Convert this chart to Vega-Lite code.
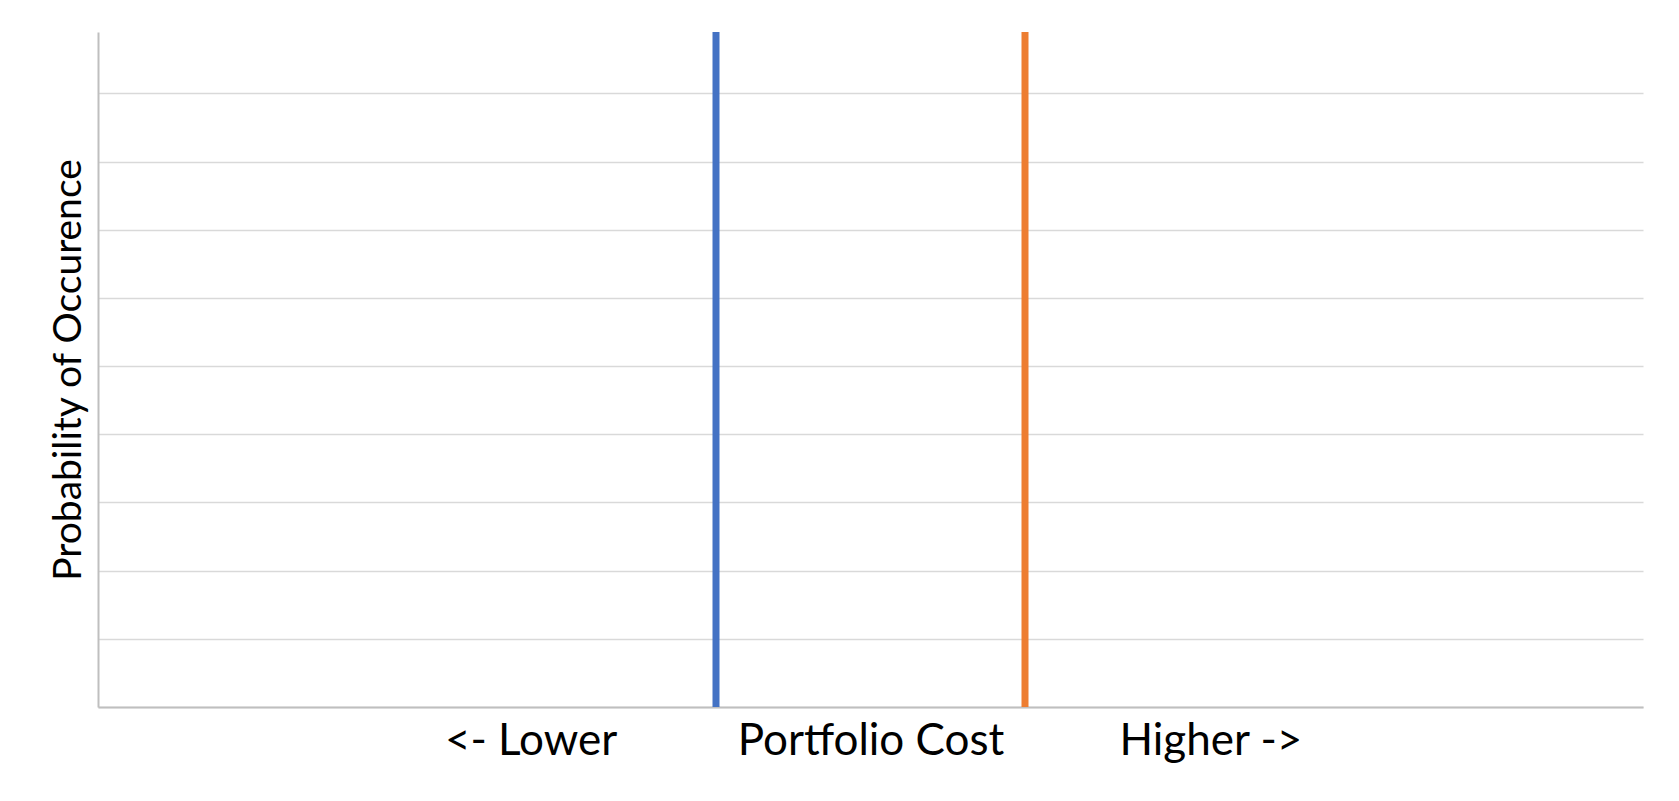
{
  "$schema": "https://vega.github.io/schema/vega-lite/v6.json",
  "autosize": {"type": "none"},
  "width": 1545,
  "height": 675,
  "padding": {"left": 98, "top": 32, "right": 36, "bottom": 94},
  "background": "white",
  "config": {
    "view": {"stroke": null},
    "font": "Lato"
  },
  "data": {
    "values": [
      {"scenario": "Current", "cost": 4},
      {"scenario": "Alternative", "cost": 6}
    ]
  },
  "mark": {"type": "rule", "strokeWidth": 7},
  "encoding": {
    "x": {
      "field": "cost",
      "type": "quantitative",
      "scale": {"domain": [0, 10], "nice": false, "zero": false},
      "axis": {
        "title": null,
        "grid": false,
        "ticks": false,
        "values": [2.8, 5, 7.2],
        "labelExpr": "datum.value < 4 ? '<- Lower' : datum.value < 6 ? 'Portfolio Cost' : 'Higher ->'",
        "labelFont": "Lato",
        "labelFontSize": 44,
        "labelColor": "#000000",
        "labelPadding": 12,
        "labelLimit": 0,
        "labelFlush": false,
        "labelOverlap": false,
        "domainColor": "#bfbfbf",
        "domainWidth": 2
      }
    },
    "y": {
      "datum": 0,
      "type": "quantitative",
      "scale": {"domain": [0, 9.9], "nice": false},
      "axis": {
        "title": "Probability of Occurence",
        "titleFont": "Lato",
        "titleFontSize": 39,
        "titleFontWeight": "normal",
        "titleColor": "#000000",
        "titlePadding": 10,
        "labels": false,
        "ticks": false,
        "values": [0, 1, 2, 3, 4, 5, 6, 7, 8, 9],
        "grid": true,
        "gridColor": "#d9d9d9",
        "gridWidth": 1.7,
        "domainColor": "#bfbfbf",
        "domainWidth": 2
      }
    },
    "y2": {"datum": 9.9},
    "color": {
      "field": "scenario",
      "type": "nominal",
      "scale": {"domain": ["Current", "Alternative"], "range": ["#4472c4", "#ed7d31"]},
      "legend": null
    }
  }
}
